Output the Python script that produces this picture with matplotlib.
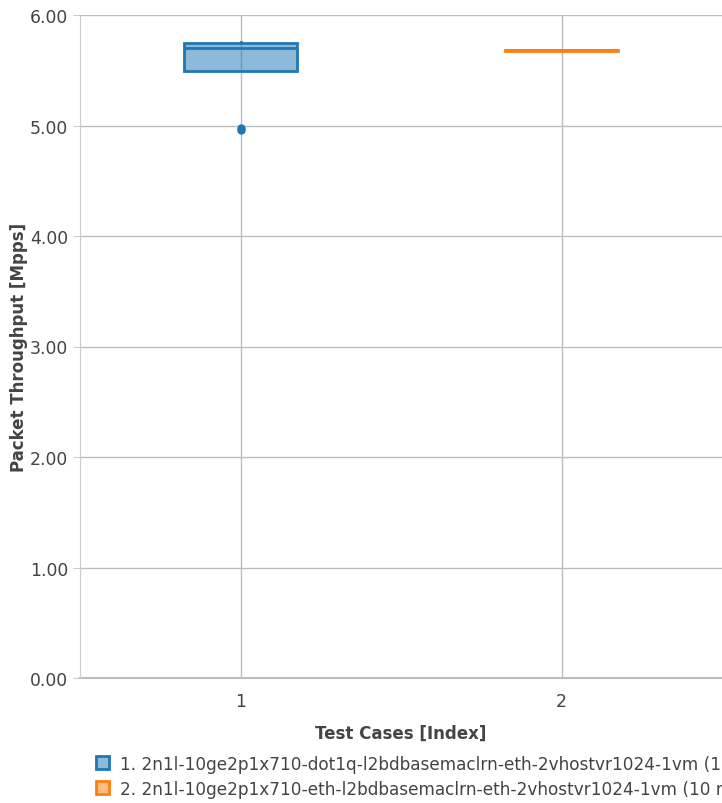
import matplotlib.pyplot as plt
from matplotlib.colors import to_rgb
from matplotlib.patches import Patch

# throughput samples per test case [Mpps]
case1 = [4.96, 4.98, 5.49, 5.50, 5.69, 5.71, 5.74, 5.75, 5.76, 5.76]
case2 = [5.67, 5.68, 5.68, 5.67, 5.68, 5.68, 5.67, 5.68, 5.68, 5.68]
positions = [1, 2]
names = [
    "1. 2n1l-10ge2p1x710-dot1q-l2bdbasemaclrn-eth-2vhostvr1024-1vm (10 runs)",
    "2. 2n1l-10ge2p1x710-eth-l2bdbasemaclrn-eth-2vhostvr1024-1vm (10 runs)",
]
colors = ["#1f77b4", "#ff7f0e"]
yticks = [0, 1, 2, 3, 4, 5, 6]

fig = plt.figure(figsize=(7.22, 8.04), dpi=100)
ax = fig.add_axes([80 / 722, 1 - 679 / 804, 1 - 80 / 722, 663 / 804])

for data, pos, col in zip([case1, case2], positions, colors):
    bp = ax.boxplot([data], positions=[pos], widths=0.355, patch_artist=True,
                    showcaps=False, manage_ticks=False, zorder=3)
    for box in bp["boxes"]:
        box.set_facecolor((*to_rgb(col), 0.5))
        box.set_edgecolor(col)
        box.set_linewidth(2)
    for w in bp["whiskers"]:
        w.set_color(col)
        w.set_linewidth(2)
    for m in bp["medians"]:
        m.set_color(col)
        m.set_linewidth(2)
    for f in bp["fliers"]:
        f.set_marker("o")
        f.set_markerfacecolor(col)
        f.set_markeredgecolor(col)
        f.set_markersize(5)

ax.set_xlim(0.5, 2.5)
ax.set_ylim(0, 6)
ax.set_xticks(positions)
ax.set_xticklabels([str(p) for p in positions])
ax.set_yticks(yticks)
ax.set_yticklabels([f"{v:.2f}" for v in yticks])
ax.grid(True, color="#bdbdbd", linewidth=1, zorder=0)
ax.set_axisbelow(True)
for s in ["top", "right", "bottom"]:
    ax.spines[s].set_visible(False)
ax.spines["left"].set_color("#cccccc")
ax.axhline(0, color="#bdbdbd", linewidth=1.5, zorder=1, clip_on=False)
ax.tick_params(axis="y", colors="#444444", labelsize=12.4, length=5, color="#cccccc")
ax.tick_params(axis="x", colors="#444444", labelsize=12.4, length=0, pad=10)

ax.set_ylabel("Packet Throughput [Mpps]", fontsize=12, fontweight="bold", color="#444444")
ax.yaxis.set_label_coords(-0.081, 0.5)
ax.set_xlabel("Test Cases [Index]", fontsize=12, fontweight="bold",
              color="#444444", labelpad=10)

handles = [Patch(facecolor=(*to_rgb(c), 0.5), edgecolor=c, linewidth=2) for c in colors]
fig.legend(handles, names, loc="upper left", bbox_to_anchor=(89 / 722, 1 - 749 / 804),
           frameon=False, fontsize=12.2, labelcolor="#444444", handlelength=0.8,
           handleheight=0.8, handletextpad=0.65, labelspacing=0.4, borderaxespad=0)

fig.savefig("out.png", dpi=100)
